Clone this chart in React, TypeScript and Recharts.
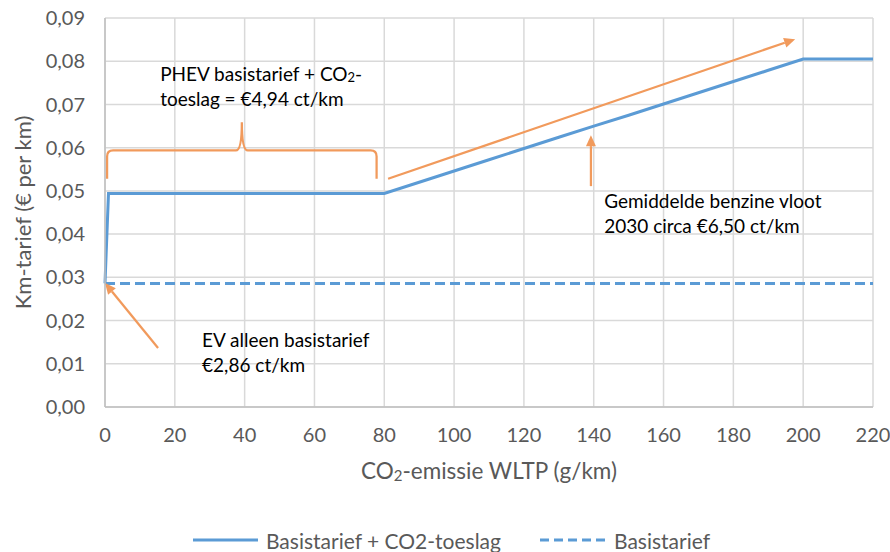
import {
  LineChart,
  Line,
  XAxis,
  YAxis,
  CartesianGrid,
  Legend,
  ReferenceLine,
  ReferenceDot,
} from "recharts";

// CO2 emission (g/km) and the two tariffs (€ per km)
const co2 = [0, 1, 80, 90, 100, 110, 120, 130, 140, 150, 160, 170, 180, 190, 200, 220];
const tariefMetToeslag = [
  0.0286, 0.0494, 0.0494, 0.052, 0.0546, 0.0572, 0.0598, 0.0624, 0.065, 0.0675, 0.0701,
  0.0727, 0.0753, 0.0779, 0.0805, 0.0805,
];
const basistarief = [
  0.0286, 0.0286, 0.0286, 0.0286, 0.0286, 0.0286, 0.0286, 0.0286, 0.0286, 0.0286, 0.0286,
  0.0286, 0.0286, 0.0286, 0.0286, 0.0286,
];
const xTicks = [0, 20, 40, 60, 80, 100, 120, 140, 160, 180, 200, 220];
const yTicks = [0, 0.01, 0.02, 0.03, 0.04, 0.05, 0.06, 0.07, 0.08, 0.09];

const data = co2.map((c, i) => ({
  co2: c,
  totaal: tariefMetToeslag[i],
  basis: basistarief[i],
}));

const FONT = "Lato, 'Open Sans', sans-serif";
const BLUE = "#5b9bd5";
const ORANGE = "#f19a5c";
const GREY = "#595959";

const Arrow = (p: any) => {
  const { x1, y1, x2, y2 } = p;
  const a = Math.atan2(y2 - y1, x2 - x1);
  const len = 11;
  const hw = 5;
  const bx = x2 - len * Math.cos(a);
  const by = y2 - len * Math.sin(a);
  const nx = -Math.sin(a);
  const ny = Math.cos(a);
  return (
    <g>
      <line x1={x1} y1={y1} x2={bx} y2={by} stroke={ORANGE} strokeWidth={2.25} />
      <polygon
        points={`${x2},${y2} ${bx + nx * hw},${by + ny * hw} ${bx - nx * hw},${by - ny * hw}`}
        fill={ORANGE}
      />
    </g>
  );
};

// segment goes from left foot of the brace to its tip; right side is mirrored
const Brace = (p: any) => {
  const { x1, y1, x2, y2 } = p;
  const xr = 2 * x2 - x1;
  const yb = (y1 + y2) / 2;
  const r = 6;
  const d = `M${x1},${y1} L${x1},${yb + r} Q${x1},${yb} ${x1 + r},${yb} L${x2 - r},${yb} Q${x2},${yb} ${x2},${y2} Q${x2},${yb} ${x2 + r},${yb} L${xr - r},${yb} Q${xr},${yb} ${xr},${yb + r} L${xr},${y1}`;
  return <path d={d} fill="none" stroke={ORANGE} strokeWidth={2.25} />;
};

const note = (lines: any[]) => (p: any) => (
  <text x={p.cx} y={p.cy} fontFamily={FONT} fontSize={19} fill="#000" dominantBaseline="central">
    {lines.map((l, i) => (
      <tspan key={i} x={p.cx} dy={i === 0 ? 0 : 25}>
        {l}
      </tspan>
    ))}
  </text>
);

const XTitle = (p: any) => {
  const vb = p.viewBox;
  return (
    <text
      x={vb.x + vb.width / 2}
      y={vb.y + 63}
      textAnchor="middle"
      dominantBaseline="central"
      fontFamily={FONT}
      fontSize={22.5}
      fill={GREY}
    >
      CO
      <tspan fontSize={15} dy={5}>
        2
      </tspan>
      <tspan dy={-5}>-emissie WLTP (g/km)</tspan>
    </text>
  );
};

const YTitle = (p: any) => {
  const vb = p.viewBox;
  const cy = vb.y + vb.height / 2;
  return (
    <text
      x={22}
      y={cy}
      transform={`rotate(-90 22 ${cy})`}
      textAnchor="middle"
      dominantBaseline="central"
      fontFamily={FONT}
      fontSize={22}
      fill={GREY}
    >
      Km-tarief (€ per km)
    </text>
  );
};

const LegendContent = () => (
  <div
    style={{
      display: "flex",
      justifyContent: "center",
      alignItems: "center",
      height: 24,
      fontFamily: FONT,
      fontSize: 21,
      color: GREY,
      paddingLeft: 13,
    }}
  >
    <svg width={65} height={4}>
      <line x1={0} y1={2} x2={65} y2={2} stroke={BLUE} strokeWidth={3} />
    </svg>
    <span style={{ marginLeft: 8, marginRight: 39 }}>Basistarief + CO2-toeslag</span>
    <svg width={68} height={4}>
      <line x1={0} y1={2} x2={68} y2={2} stroke={BLUE} strokeWidth={3} strokeDasharray="9 5" />
    </svg>
    <span style={{ marginLeft: 6 }}>Basistarief</span>
  </div>
);

export default function App() {
  return (
    <div style={{ position: "absolute", left: 0, top: 0, background: "#fff" }}>
      <LineChart
        width={890}
        height={552}
        data={data}
        margin={{ top: 18, right: 17, left: 0, bottom: 0 }}
      >
        <CartesianGrid stroke="#d9d9d9" strokeWidth={1.5} />
        <XAxis
          dataKey="co2"
          type="number"
          domain={[0, 220]}
          ticks={xTicks}
          tickLine={false}
          tickSize={0}
          tickMargin={21}
          axisLine={{ stroke: "#bfbfbf", strokeWidth: 1.5 }}
          tick={{ fill: GREY, fontSize: 20, fontFamily: FONT }}
          height={121}
          label={<XTitle />}
        />
        <YAxis
          type="number"
          domain={[0, 0.09]}
          ticks={yTicks}
          tickFormatter={(v: number) => v.toFixed(2).replace(".", ",")}
          tickLine={false}
          tickSize={0}
          tickMargin={20}
          axisLine={{ stroke: "#bfbfbf", strokeWidth: 1.5 }}
          tick={{ fill: GREY, fontSize: 20, fontFamily: FONT }}
          width={105}
          label={<YTitle />}
        />
        <Legend verticalAlign="bottom" content={<LegendContent />} wrapperStyle={{ left: 0, width: 890 }} />
        <Line
          name="Basistarief + CO2-toeslag"
          dataKey="totaal"
          type="linear"
          stroke={BLUE}
          strokeWidth={3}
          dot={false}
          isAnimationActive={false}
        />
        <Line
          name="Basistarief"
          dataKey="basis"
          type="linear"
          stroke={BLUE}
          strokeWidth={3}
          strokeDasharray="10 5"
          dot={false}
          isAnimationActive={false}
        />
        <ReferenceLine segment={[{ x: 0.6, y: 0.0528 }, { x: 39.2, y: 0.0659 }]} shape={Brace} />
        <ReferenceLine segment={[{ x: 15.2, y: 0.01365 }, { x: 0, y: 0.0287 }]} shape={Arrow} />
        <ReferenceLine segment={[{ x: 81.1, y: 0.0528 }, { x: 197.7, y: 0.0851 }]} shape={Arrow} />
        <ReferenceLine segment={[{ x: 139.2, y: 0.0511 }, { x: 139.2, y: 0.0629 }]} shape={Arrow} />
        <ReferenceDot
          x={15.8}
          y={0.0773}
          shape={note([
            <>
              PHEV basistarief + CO
              <tspan fontSize={13} dy={4}>
                2
              </tspan>
              <tspan dy={-4}>-</tspan>
            </>,
            "toeslag = €4,94 ct/km",
          ])}
        />
        <ReferenceDot x={27.8} y={0.0157} shape={note(["EV alleen basistarief", "€2,86 ct/km"])} />
        <ReferenceDot x={143} y={0.0479} shape={note(["Gemiddelde benzine vloot", "2030 circa €6,50 ct/km"])} />
      </LineChart>
    </div>
  );
}
